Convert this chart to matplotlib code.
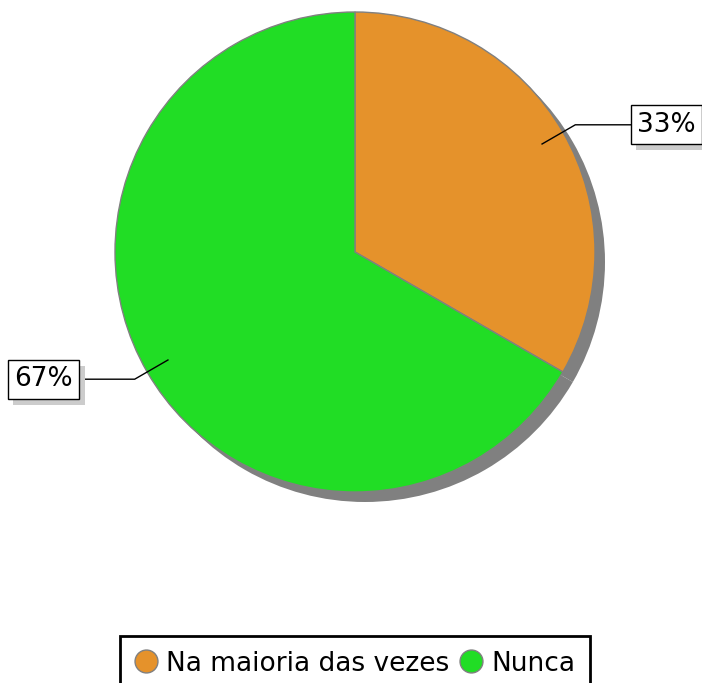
import matplotlib
matplotlib.use("Agg")
import matplotlib.pyplot as plt
from matplotlib.lines import Line2D
from matplotlib.patches import Rectangle
import numpy as np

categories = ["Na maioria das vezes", "Nunca"]
values = [1, 2]
labels = ["33%", "67%"]
colors = ["#E5922B", "#21DD25"]

W, H = 702, 683
fig = plt.figure(figsize=(W / 100, H / 100), dpi=100)
ax = fig.add_axes([0, 0, 1, 1])

cx, cy, R = 355, H - 252, 240
# shadow
ax.pie(values, startangle=90, counterclock=False, center=(cx + 10, cy - 10), radius=R,
       colors=["#808080"] * len(values), wedgeprops=dict(linewidth=0), frame=True)
wedges, _ = ax.pie(values, startangle=90, counterclock=False, center=(cx, cy), radius=R,
                   colors=colors, wedgeprops=dict(edgecolor="#808080", linewidth=1), frame=True)
ax.set_xlim(0, W)
ax.set_ylim(0, H)
ax.set_aspect("equal")
ax.axis("off")

fs = 19
pad = 0.25
padpx = pad * fs * 100 / 72
texts = []
for w, lab in zip(wedges, labels):
    ang = np.deg2rad((w.theta1 + w.theta2) / 2)
    x0, y0 = cx + 0.9 * R * np.cos(ang), cy + 0.9 * R * np.sin(ang)
    x1, y1 = cx + 1.06 * R * np.cos(ang), cy + 1.06 * R * np.sin(ang)
    right = np.cos(ang) > 0
    x2 = 631 if right else 79
    ax.plot([x0, x1, x2], [y0, y1, y1], color="black", lw=1, zorder=5)
    ha = "left" if right else "right"
    tx = x2 + (padpx - 0.5 if right else -padpx + 0.5)
    t = ax.text(tx, y1, lab, fontsize=fs, ha=ha, va="center", color="black", zorder=7,
                bbox=dict(boxstyle=f"square,pad={pad}", facecolor="white", edgecolor="black", linewidth=1))
    texts.append(t)

fig.canvas.draw()
inv = ax.transData.inverted()
for t in texts:
    bb = t.get_bbox_patch().get_window_extent()
    (xa, ya), (xb, yb) = inv.transform([[bb.x0, bb.y0], [bb.x1, bb.y1]])
    ax.add_patch(Rectangle((xa + 5, ya - 6), xb - xa, yb - ya, facecolor="#CCCCCC",
                           edgecolor="none", zorder=6))

handles = [Line2D([0], [0], marker="o", linestyle="none", markersize=16.5,
                  markerfacecolor=c, markeredgecolor="#808080", markeredgewidth=1)
           for c in colors]
leg = fig.legend(handles, categories, loc="upper center", bbox_to_anchor=(355 / W, 1 - 636 / H),
                 ncol=2, fontsize=fs, frameon=True, fancybox=False, borderpad=0.55, framealpha=1,
                 handletextpad=0.35, columnspacing=0.4, handlelength=0.85, borderaxespad=0)
leg.get_frame().set_edgecolor("black")
leg.get_frame().set_linewidth(2)

fig.savefig("out.png", dpi=100)
